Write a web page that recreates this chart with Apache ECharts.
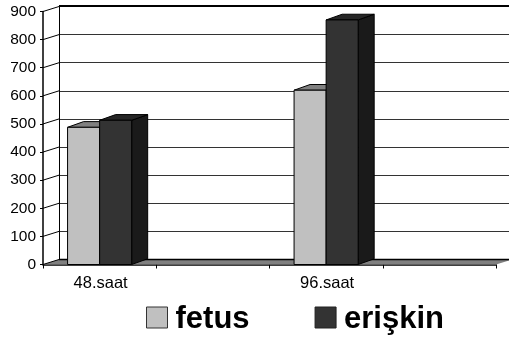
<!DOCTYPE html>
<html>
<head>
<meta charset="utf-8">
<style>
  html, body { margin: 0; padding: 0; background: #fff; }
  #chart { width: 509px; height: 337px; }
</style>
<script src="https://cdn.jsdelivr.net/npm/echarts@6/dist/echarts.min.js"></script>
</head>
<body>
<div id="chart"></div>
<script>
// data
var categories = ['48.saat', '', '96.saat', ''];
var fetus = [488, null, 620, null];
var eriskin = [513, null, 870, null];
var yTicks = [0, 100, 200, 300, 400, 500, 600, 700, 800, 900];

var myChart = echarts.init(document.getElementById('chart'));

// pseudo 3d depth of the plot
var depthX = 16;
var depthY = 5;
var barDepthY = 5.7;
var barShare = 0.283;

function poly(points, fill) {
    return {
        type: 'polygon',
        shape: { points: points },
        style: { fill: fill, stroke: '#000', lineWidth: 1 }
    };
}

function barRenderer(side, front, top, dark) {
    return function (params, api) {
        var val = api.value(1);
        if (val === null || isNaN(val)) return;
        var band = api.size([1, 0])[0];
        var w = band * barShare;
        var p = api.coord([api.value(0), val]);
        var base = api.coord([api.value(0), 0]);
        var x0 = p[0] + side * w;
        var x1 = x0 + w;
        var y0 = p[1];
        var y1 = base[1];
        return {
            type: 'group',
            children: [
                poly([[x1, y0], [x1 + depthX, y0 - barDepthY], [x1 + depthX, y1 - barDepthY], [x1, y1]], dark),
                poly([[x0, y0], [x0 + depthX, y0 - barDepthY], [x1 + depthX, y0 - barDepthY], [x1, y0]], top),
                poly([[x0, y0], [x1, y0], [x1, y1], [x0, y1]], front)
            ]
        };
    };
}

var option = {
    animation: false,
    textStyle: { fontFamily: 'Liberation Sans' },
    grid: [
        { left: 43, right: 13, top: 11.5, bottom: 72.5 },
        { left: 59, right: -3, top: 6.5, bottom: 77.5 }
    ],
    legend: {
        left: 141,
        top: 299,
        itemWidth: 21,
        itemHeight: 21,
        itemGap: 65,
        icon: 'rect',
        selectedMode: false,
        formatter: '{a|{name}}',
        textStyle: {
            rich: {
                a: { fontSize: 31, fontWeight: 'bold', color: '#000', fontFamily: 'Liberation Sans', padding: [4, 0, 0, 3] }
            }
        },
        data: [
            { name: 'fetus', itemStyle: { color: '#c0c0c0', borderColor: '#333', borderWidth: 1 } },
            { name: 'erişkin', itemStyle: { color: '#333333', borderColor: '#222', borderWidth: 1 } }
        ]
    },
    xAxis: [
        {
            type: 'category',
            gridIndex: 0,
            data: categories,
            axisLine: { lineStyle: { color: '#000', width: 1.5 } },
            axisTick: { show: true, alignWithLabel: false, length: 4, lineStyle: { color: '#000' } },
            axisLabel: { color: '#000', fontSize: 16.5, margin: 10, interval: 0, padding: [0, 0, 0, 2] }
        },
        { type: 'value', gridIndex: 1, show: false, min: 0, max: 1 }
    ],
    yAxis: [
        {
            type: 'value',
            gridIndex: 0,
            min: 0,
            max: 900,
            interval: 100,
            axisLine: { show: true, lineStyle: { color: '#000', width: 1.5 } },
            axisTick: { show: true, length: 3, lineStyle: { color: '#000' } },
            axisLabel: { color: '#000', fontSize: 15.5, margin: 7 },
            splitLine: { show: false }
        },
        {
            type: 'value',
            gridIndex: 1,
            min: 0,
            max: 900,
            interval: 100,
            axisLine: { show: true, lineStyle: { color: '#000', width: 1 } },
            axisTick: { show: false },
            axisLabel: { show: false },
            splitLine: { show: true, lineStyle: { color: '#333', width: 1 } }
        }
    ],
    series: [
        {
            // top edge of the back wall
            type: 'custom',
            xAxisIndex: 1,
            yAxisIndex: 1,
            silent: true,
            clip: false,
            data: [[0, 900]],
            renderItem: function (params, api) {
                var a = api.coord([0, 900]);
                var b = api.coord([1, 900]);
                return { type: 'line', shape: { x1: a[0], y1: a[1] - 0.5, x2: b[0], y2: b[1] - 0.5 }, style: { stroke: '#000', lineWidth: 2 } };
            }
        },
        {
            // floor
            type: 'custom',
            xAxisIndex: 0,
            yAxisIndex: 0,
            silent: true,
            clip: false,
            z: 2,
            data: [[0, 0]],
            renderItem: function (params, api) {
                var band = api.size([1, 0])[0];
                var p = api.coord([0, 0]);
                var x0 = p[0] - band / 2;
                var x1 = x0 + band * categories.length;
                var y = p[1];
                return {
                    type: 'group',
                    children: [
                        { type: 'polygon', shape: { points: [[x0, y], [x0 + depthX, y - depthY], [x1 + depthX, y - depthY], [x1, y]] }, style: { fill: '#808080' } },
                        { type: 'line', shape: { x1: x0 + depthX, y1: y - depthY, x2: x1 + depthX, y2: y - depthY }, style: { stroke: '#000', lineWidth: 1.5 } }
                    ]
                };
            }
        },
        {
            // slanted lines joining the axis ticks to the back wall
            type: 'custom',
            xAxisIndex: 0,
            yAxisIndex: 0,
            silent: true,
            clip: false,
            z: 2,
            data: yTicks.map(function (t) { return [0, t]; }),
            renderItem: function (params, api) {
                var band = api.size([1, 0])[0];
                var p = api.coord([0, api.value(1)]);
                var x0 = p[0] - band / 2;
                return { type: 'line', shape: { x1: x0, y1: p[1], x2: x0 + depthX, y2: p[1] - depthY }, style: { stroke: '#000', lineWidth: 1 } };
            }
        },
        {
            name: 'fetus',
            type: 'custom',
            xAxisIndex: 0,
            yAxisIndex: 0,
            clip: false,
            z: 3,
            itemStyle: { color: '#c0c0c0' },
            data: fetus.map(function (v, i) { return [i, v]; }),
            renderItem: barRenderer(-1, '#c0c0c0', '#808080', '#606060')
        },
        {
            name: 'erişkin',
            type: 'custom',
            xAxisIndex: 0,
            yAxisIndex: 0,
            clip: false,
            z: 4,
            itemStyle: { color: '#333333' },
            data: eriskin.map(function (v, i) { return [i, v]; }),
            renderItem: barRenderer(0, '#333333', '#262626', '#1a1a1a')
        }
    ]
};

myChart.setOption(option, true);
</script>
</body>
</html>
